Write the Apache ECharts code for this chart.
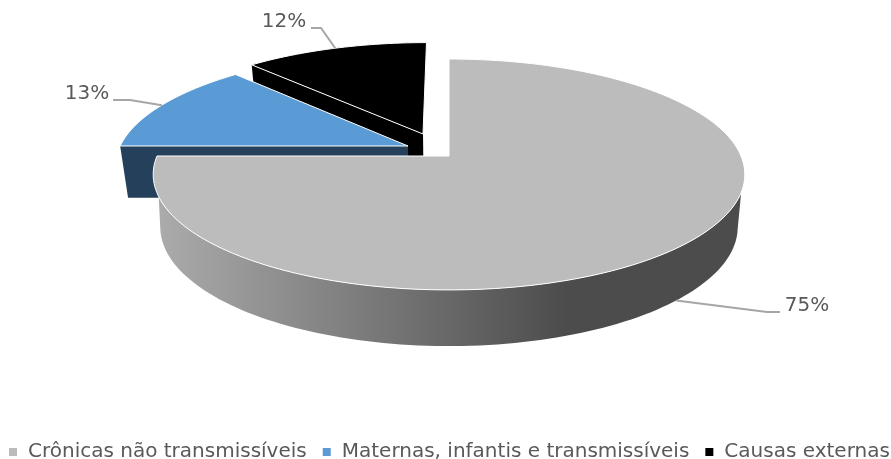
<!DOCTYPE html>
<html>
<head>
<meta charset="utf-8">
<style>html,body{margin:0;padding:0;background:#fff}#chart{width:891px;height:459px}</style>
<script src="https://cdn.jsdelivr.net/npm/echarts@6/dist/echarts.min.js"></script>
</head>
<body>
<div id="chart"></div>
<script>
const categories = ['Crônicas não transmissíveis', 'Maternas, infantis e transmissíveis', 'Causas externas'];
const shares = [75, 13, 12];

// Perspective model of the tilted disc: unit-disc (u, v) maps onto two planes.
const CX = 449, TILT = 0.16;
const topPlane = { a: 292, b: 112.5, y0: 156 };
const basePlane = { a: 285, b: 116, y0: 208 };
const project = (p, u, v) => {
  const w = 1 + TILT * v;
  return [CX + p.a * u / w, p.y0 - p.b * v / w];
};

// Per-slice look: how far each slice is pulled out, colours, leader shape.
const looks = [
  { shift: [0, 0], face: '#bcbcbc', z: 3, onBase: true,
    elbow: [[767, 312], [780, 312]], label: [807, 306] },
  { shift: [-0.1424, 0.0902], face: '#5b9bd5', wall: '#24405a', z: 2,
    elbow: [[130, 100], [113, 100]], label: [87, 94] },
  { shift: [-0.0919, 0.2019], face: '#000000', wall: '#000000', z: 1,
    elbow: [[321, 28], [311, 28]], label: [284, 22] }
];

const total = shares.reduce((s, v) => s + v, 0);
const startAngle = i => shares.slice(0, i).reduce((s, v) => s + v, 0) / total * 360;
const rad = d => d * Math.PI / 180;
const rim = (p, deg, sh) => project(p, sh[0] + Math.sin(rad(deg)), sh[1] + Math.cos(rad(deg)));

function arc(p, from, to, sh) {
  const pts = [];
  const steps = Math.max(4, Math.ceil(Math.abs(to - from) / 1.5));
  for (let k = 0; k <= steps; k++) pts.push(rim(p, from + (to - from) * k / steps, sh));
  return pts;
}

function renderSlice(i) {
  return function (params, api) {
    const value = api.value(0);
    const from = startAngle(i);
    const to = from + value / total * 360;
    const look = looks[i];
    const sh = look.shift;
    const children = [];

    if (i === 0) {
      // Curved front wall of the large slice, shaded from light to dark.
      const wall = arc(topPlane, 108, 250, sh).concat(arc(basePlane, 260, 100, sh));
      children.push({
        type: 'polygon', shape: { points: wall },
        style: {
          fill: new echarts.graphic.LinearGradient(0, 0, 1, 0, [
            { offset: 0, color: '#ababab' },
            { offset: 0.7, color: '#4c4c4c' },
            { offset: 1, color: '#4c4c4c' }
          ])
        }
      });
    } else {
      // Flat cut wall running from the centre to the slice's first radius.
      children.push({
        type: 'polygon',
        shape: {
          points: [
            rim(topPlane, from, sh),
            project(topPlane, sh[0], sh[1]),
            project(basePlane, sh[0], sh[1]),
            rim(basePlane, from, sh)
          ]
        },
        style: { fill: look.wall }
      });
    }

    // Top face of the slice.
    const face = [project(topPlane, sh[0], sh[1])].concat(arc(topPlane, from, to, sh));
    children.push({
      type: 'polygon', shape: { points: face },
      style: { fill: look.face, stroke: '#ffffff', lineWidth: 1, lineJoin: 'round' }
    });

    // Leader line, anchored on the rim at the slice's middle angle.
    const mid = (from + to) / 2;
    const anchor = rim(look.onBase ? basePlane : topPlane, mid, sh);
    children.push({
      type: 'polyline',
      shape: { points: [anchor].concat(look.elbow) },
      style: { fill: 'none', stroke: '#a6a6a6', lineWidth: 2 }
    });
    children.push({
      type: 'text',
      style: {
        x: look.label[0], y: look.label[1], text: value + '%',
        fill: '#595959', font: '20px "DejaVu Sans"',
        align: 'center', verticalAlign: 'middle'
      }
    });
    return { type: 'group', children };
  };
}

const chart = echarts.init(document.getElementById('chart'), null, { renderer: 'canvas' });
chart.setOption({
  animation: false,
  backgroundColor: '#ffffff',
  color: looks.map(l => l.face),
  legend: {
    data: categories,
    left: 9,
    top: 442,
    itemWidth: 8,
    itemHeight: 8,
    itemGap: 16,
    icon: 'rect',
    padding: 0,
    textStyle: { color: '#595959', fontSize: 20, fontFamily: 'DejaVu Sans', padding: [0, 0, 0, 6] }
  },
  series: categories.map((name, i) => ({
    type: 'custom',
    name,
    z: looks[i].z,
    coordinateSystem: 'none',
    silent: true,
    renderItem: renderSlice(i),
    data: [[shares[i]]]
  }))
});
</script>
</body>
</html>
